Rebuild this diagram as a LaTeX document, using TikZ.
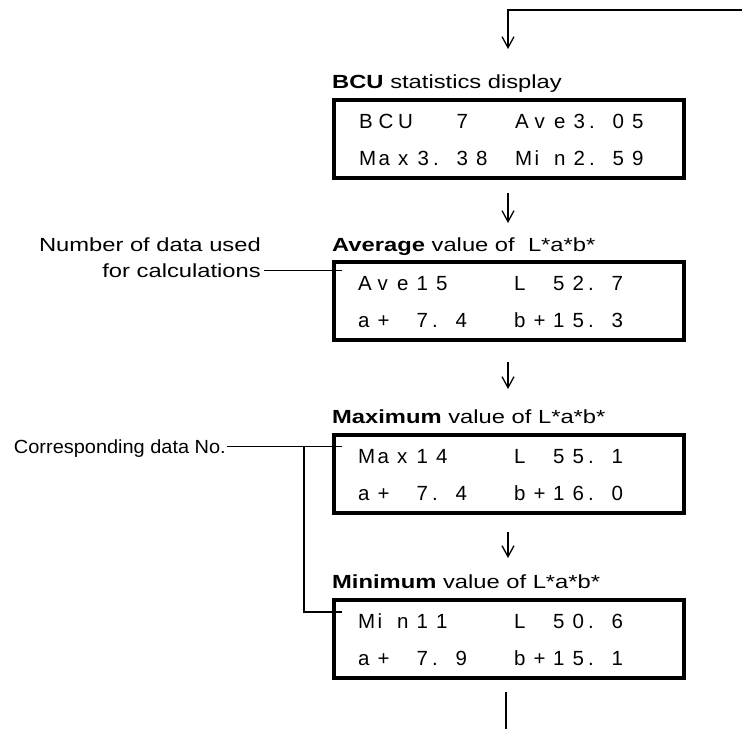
\documentclass[tikz,border=0pt]{standalone}
\usepackage{fontspec}
\setmainfont{Liberation Sans}
\newfontfamily\titlefont{Liberation Sans}[FakeStretch=1.25]
\newfontfamily\corrfont{Liberation Sans}[FakeStretch=1.05]
\newfontfamily\dispfont{Liberation Sans}
\usetikzlibrary{arrows.meta}
\newlength\dpitch \setlength\dpitch{19.5pt}
\def\dch#1{\ifx#1\relax\else\makebox[\dpitch][l]{\ifx#1_\else\ifx#1.\hspace{-4pt}.\else#1\fi\fi}\expandafter\dch\fi}
\tikzset{
 ttl/.style={anchor=base west, inner sep=0pt, font=\titlefont\fontsize{19}{22}\selectfont},
 disp/.style={anchor=base west, inner sep=0pt, font=\dispfont\fontsize{20.5}{24}\selectfont},
 lbl/.style={anchor=base east, inner sep=0pt, text height=13pt, text depth=0pt, font=\titlefont\fontsize{19}{22}\selectfont},
 lbltwo/.style={anchor=base east, inner sep=0pt, text height=13pt, text depth=0pt, font=\corrfont\fontsize{19}{22}\selectfont},
 panel/.style={draw, line width=4pt, inner sep=0pt, anchor=north west, minimum width=350pt, minimum height=78pt},
 flow/.style={line width=1.3pt, -{Straight Barb[length=11pt,width=12pt,line width=1.3pt]}},
 lead/.style={line width=1.2pt},
}
\begin{document}
\begin{tikzpicture}[x=1pt,y=-1pt]
\useasboundingbox (0,0) rectangle (742,729);
% top feedback line
\coordinate (tr) at (742,10);
\coordinate (a0) at (508,49);
\draw[flow] (tr) -| (a0);
% box 1
\node[ttl] (t1) at (332,88) {\textbf{BCU} statistics display};
\node[panel] (b1) at (332,98) {};
\node[disp] (b1a) at (359,128) {\dch BCU__7__Ave3.05\relax};
\node[disp] (b1b) at (359,165) {\dch Max3.38_Min2.59\relax};
\coordinate (a1s) at (508,193); \coordinate (a1e) at (508,223);
\draw[flow] (a1s) -- (a1e);
% box 2
\node[ttl] (t2) at (332,251) {\textbf{Average} value of\ \ L*a*b*};
\node[panel] (b2) at (332,260) {};
\node[disp] (b2a) at (358,290) {\dch Ave15___L_52.7\relax};
\node[disp] (b2b) at (358,327) {\dch a+_7.4__b+15.3\relax};
\coordinate (a2s) at (508,362); \coordinate (a2e) at (508,389);
\draw[flow] (a2s) -- (a2e);
% box 3
\node[ttl] (t3) at (332,423) {\textbf{Maximum} value of L*a*b*};
\node[panel] (b3) at (332,433) {};
\node[disp] (b3a) at (358,463) {\dch Max14___L_55.1\relax};
\node[disp] (b3b) at (358,500) {\dch a+_7.4__b+16.0\relax};
\coordinate (a3s) at (508,532); \coordinate (a3e) at (508,558);
\draw[flow] (a3s) -- (a3e);
% box 4
\node[ttl] (t4) at (332,588) {\textbf{Minimum} value of L*a*b*};
\node[panel] (b4) at (332,598) {};
\node[disp] (b4a) at (358,628) {\dch Min11___L_50.6\relax};
\node[disp] (b4b) at (358,665) {\dch a+_7.9__b+15.1\relax};
\coordinate (e1) at (506,692); \coordinate (e2) at (506,729);
\draw[line width=1.3pt] (e1) -- (e2);
% annotations
\coordinate (k) at (342,0);
\coordinate (v) at (304,0);
\node[lbl] (n1) at (261,251) {Number of data used};
\node[lbl] (n2) at (261,277) {for calculations};
\draw[lead] ([xshift=3pt]n2.east) -- (n2.east -| k);
\node[lbltwo] (c1) at (226,453) {Corresponding data No.};
\coordinate (m4) at (342,612);
\draw[lead] ([xshift=1pt]c1.east) -- (c1.east -| k);
\draw[lead] (c1.east -| v) |- (m4);
\end{tikzpicture}
\end{document}
